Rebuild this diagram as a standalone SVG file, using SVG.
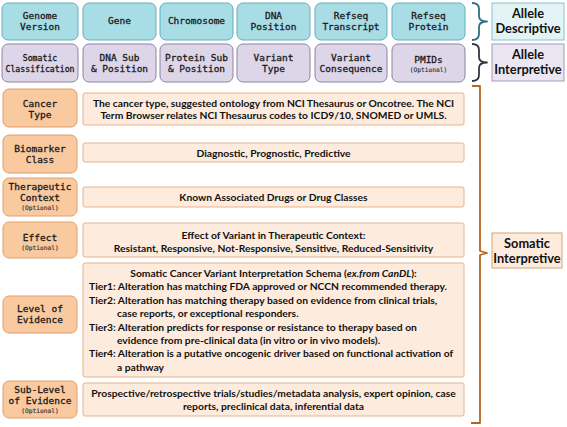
<svg xmlns="http://www.w3.org/2000/svg" width="567" height="427" viewBox="0 0 567 427">
<style>
.mono{font-family:"DejaVu Sans Mono","Liberation Mono",monospace;font-size:9.5px;fill:#1a1a1a;stroke:#1a1a1a;stroke-width:0.3;text-anchor:middle}
.small{font-size:8.2px}
.opt{font-family:"DejaVu Sans Mono","Liberation Mono",monospace;font-size:6.2px;fill:#333;stroke:#333;stroke-width:0.15;text-anchor:middle}
.desc{fill:#a9dde6;stroke:#62aebd;stroke-width:1}
.interp{fill:#ddd6e9;stroke:#8f82a3;stroke-width:1}
.lab{fill:#f9c9a0;stroke:#e0a06a;stroke-width:1}
.tb{fill:#fdebdd;stroke:#e6b38c;stroke-width:1}
.body{font-family:Lato,"Open Sans",sans-serif;font-weight:bold;font-size:10.3px;fill:#111}
.mid{text-anchor:middle}
.big{font-family:Lato,"Open Sans",sans-serif;font-weight:bold;font-size:12.8px;fill:#111;text-anchor:middle}
.br{fill:none;stroke-width:1.8;stroke-linejoin:round}
</style>

<g id="genome-version"><rect class="desc" x="2" y="3" width="76" height="37" rx="6"/><text class="mono" x="40" y="18.5">Genome</text><text class="mono" x="40" y="29.5">Version</text></g>
<g id="gene"><rect class="desc" x="83" y="3" width="73" height="37" rx="6"/><text class="mono" x="119.5" y="24">Gene</text></g>
<g id="chromosome"><rect class="desc" x="160" y="3" width="73" height="37" rx="6"/><text class="mono" x="196.5" y="24">Chromosome</text></g>
<g id="dna-position"><rect class="desc" x="237" y="3" width="73" height="37" rx="6"/><text class="mono" x="273.5" y="18.5">DNA</text><text class="mono" x="273.5" y="29.5">Position</text></g>
<g id="refseq-transcript"><rect class="desc" x="315" y="3" width="72" height="37" rx="6"/><text class="mono" x="351" y="18.5">Refseq</text><text class="mono" x="351" y="29.5">Transcript</text></g>
<g id="refseq-protein"><rect class="desc" x="392" y="3" width="73" height="37" rx="6"/><text class="mono" x="428.5" y="18.5">Refseq</text><text class="mono" x="428.5" y="29.5">Protein</text></g>

<g id="somatic-classification"><rect class="interp" x="2" y="44" width="76" height="38" rx="6"/><text class="mono small" x="40" y="61">Somatic</text><text class="mono small" x="40" y="71.5">Classification</text></g>
<g id="dna-sub"><rect class="interp" x="83" y="44" width="73" height="38" rx="6"/><text class="mono" x="119.5" y="60.5">DNA Sub</text><text class="mono" x="119.5" y="72">&amp; Position</text></g>
<g id="protein-sub"><rect class="interp" x="160" y="44" width="73" height="38" rx="6"/><text class="mono" x="196.5" y="60.5">Protein Sub</text><text class="mono" x="196.5" y="72">&amp; Position</text></g>
<g id="variant-type"><rect class="interp" x="237" y="44" width="73" height="38" rx="6"/><text class="mono" x="273.5" y="60.5">Variant</text><text class="mono" x="273.5" y="72">Type</text></g>
<g id="variant-consequence"><rect class="interp" x="315" y="44" width="72" height="38" rx="6"/><text class="mono" x="351" y="60.5">Variant</text><text class="mono" x="351" y="72">Consequence</text></g>
<g id="pmids"><rect class="interp" x="392" y="44" width="73" height="38" rx="6"/><text class="mono" x="428.5" y="63">PMIDs</text><text class="opt" x="428.5" y="72">(Optional)</text></g>

<g id="allele-descriptive"><rect x="492" y="3" width="72" height="37" fill="#e3f3f6" stroke="#84c4cf"/><text class="big" x="528" y="18">Allele</text><text class="big" x="528" y="33">Descriptive</text></g>
<g id="allele-interpretive"><rect x="492" y="44" width="72" height="37" fill="#ebe7f2" stroke="#a699b8"/><text class="big" x="528" y="58.5">Allele</text><text class="big" x="528" y="73.5">Interpretive</text></g>
<g id="somatic-interpretive"><rect x="492" y="233" width="70" height="35" fill="#fdebdd" stroke="#d9a376"/><text class="big" x="527" y="248">Somatic</text><text class="big" x="527" y="263">Interpretive</text></g>

<g id="cancer-type"><rect class="lab" x="3" y="89" width="74" height="38" rx="6"/><text class="mono" x="40" y="107">Cancer</text><text class="mono" x="40" y="118">Type</text>
<rect class="tb" x="83" y="93" width="381" height="32" rx="2"/><text class="body mid" x="273.5" y="106.5">The cancer type, suggested ontology from NCI Thesaurus or Oncotree. The NCI</text><text class="body mid" x="273.5" y="118.5">Term Browser relates NCI Thesaurus codes to ICD9/10, SNOMED or UMLS.</text></g>

<g id="biomarker-class"><rect class="lab" x="3" y="135" width="74" height="38" rx="6"/><text class="mono" x="40" y="151.5">Biomarker</text><text class="mono" x="40" y="162.5">Class</text>
<rect class="tb" x="83" y="143" width="381" height="19" rx="2"/><text class="body mid" x="273.5" y="156.5">Diagnostic, Prognostic, Predictive</text></g>

<g id="therapeutic-context"><rect class="lab" x="3" y="178" width="74" height="38" rx="6"/><text class="mono" x="40" y="190">Therapeutic</text><text class="mono" x="40" y="201">Context</text><text class="opt" x="40" y="209.5">(Optional)</text>
<rect class="tb" x="83" y="187" width="381" height="20" rx="2"/><text class="body mid" x="273.5" y="200.5">Known Associated Drugs or Drug Classes</text></g>

<g id="effect"><rect class="lab" x="3" y="222" width="74" height="36" rx="6"/><text class="mono" x="40" y="241">Effect</text><text class="opt" x="40" y="250">(Optional)</text>
<rect class="tb" x="83" y="223" width="381" height="34" rx="2"/><text class="body mid" x="273.5" y="238.5">Effect of Variant in Therapeutic Context:</text><text class="body mid" x="273.5" y="251.5">Resistant, Responsive, Not-Responsive, Sensitive, Reduced-Sensitivity</text></g>

<g id="level-of-evidence"><rect class="lab" x="3" y="296" width="74" height="37" rx="6"/><text class="mono" x="40" y="312">Level of</text><text class="mono" x="40" y="323">Evidence</text>
<rect class="tb" x="83" y="263" width="381" height="114" rx="2"/>
<text class="body mid" x="273.5" y="276.5">Somatic Cancer Variant Interpretation Schema (<tspan font-style="italic">ex.from CanDL</tspan>):</text>
<text class="body" x="89" y="290">Tier1: Alteration has matching FDA approved or NCCN recommended therapy.</text>
<text class="body" x="89" y="303.5">Tier2: Alteration has matching therapy based on evidence from clinical trials,</text>
<text class="body" x="117" y="317">case reports, or exceptional responders.</text>
<text class="body" x="89" y="330.5">Tier3: Alteration predicts for response or resistance to therapy based on</text>
<text class="body" x="117" y="344">evidence from pre-clinical data (in vitro or in vivo models).</text>
<text class="body" x="89" y="357">Tier4: Alteration is a putative oncogenic driver based on functional activation of</text>
<text class="body" x="117" y="370.5">a pathway</text></g>

<g id="sub-level-of-evidence"><rect class="lab" x="3" y="381" width="74" height="37" rx="6"/><text class="mono" x="40" y="393">Sub-Level</text><text class="mono" x="40" y="404">of Evidence</text><text class="opt" x="40" y="412.5">(Optional)</text>
<rect class="tb" x="83" y="383" width="381" height="33" rx="2"/><text class="body mid" x="273.5" y="396.5">Prospective/retrospective trials/studies/metadata analysis, expert opinion, case</text><text class="body mid" x="273.5" y="409.5">reports, preclinical data, inferential data</text></g>

<g id="connectors">
<path class="br" stroke="#2f6f80" d="M472,3 Q479,3 479,9 L479,16 Q479,21.5 487,21.5 Q479,21.5 479,27 L479,34 Q479,40 472,40"/>
<path class="br" stroke="#3a3340" d="M472,44 Q479,44 479,50 L479,57 Q479,62.5 487,62.5 Q479,62.5 479,68 L479,75 Q479,81 472,81"/>
<path class="br" stroke="#b5651d" d="M472,86 L480,86 L480,251 L487,253 L480,255 L480,423 L471,423"/>
</g>
</svg>
